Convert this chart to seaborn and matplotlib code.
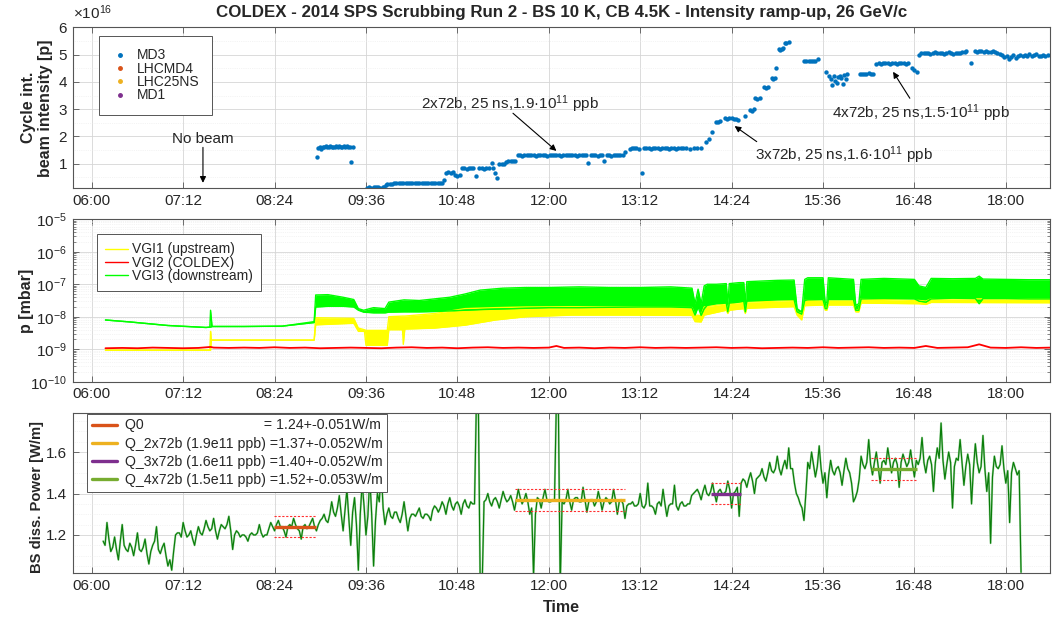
import numpy as np
import matplotlib
matplotlib.use("Agg")
import matplotlib.pyplot as plt
import seaborn as sns
from matplotlib.ticker import FixedLocator, MultipleLocator, LogLocator, NullFormatter
from matplotlib.lines import Line2D

sns.set_theme(style="white")
plt.rcParams['font.family'] = ['Liberation Sans', 'DejaVu Sans']
plt.rcParams['mathtext.fontset'] = 'custom'
plt.rcParams['mathtext.rm'] = 'Liberation Sans'
plt.rcParams['mathtext.it'] = 'Liberation Sans:italic'
plt.rcParams['mathtext.bf'] = 'Liberation Sans:bold'

# ---------------- data ----------------
tick_hours = [6.0, 7.2, 8.4, 9.6, 10.8, 12.0, 13.2, 14.4, 15.6, 16.8, 18.0]
tick_labels = ["06:00", "07:12", "08:24", "09:36", "10:48", "12:00", "13:12", "14:24", "15:36", "16:48", "18:00"]

# MD3 cycle intensity (units of 1e16 p), time in hours
md3_time = [
    8.96, 8.97, 8.99, 9.01, 9.03, 9.05, 9.07, 9.09, 9.11, 9.13, 9.15, 9.17, 9.19, 9.21, 9.23, 9.25, 9.27, 9.29, 9.31, 9.33, 9.35, 9.37, 9.39, 9.41, 9.43,
    9.61, 9.64, 9.67, 9.70, 9.73, 9.76, 9.79, 9.82, 9.84,
    9.86, 9.88, 9.91, 9.94, 9.97, 10.00, 10.03, 10.06, 10.09, 10.12, 10.15, 10.18, 10.21, 10.24, 10.27, 10.30, 10.33, 10.36, 10.39, 10.42, 10.45, 10.48, 10.51, 10.54, 10.57, 10.60, 10.63,
    10.65, 10.68, 10.71, 10.74, 10.77, 10.80, 10.83, 10.86, 10.89, 10.92, 10.95, 10.98, 11.01, 11.05, 11.09, 11.12, 11.15, 11.18, 11.21, 11.25, 11.27, 11.30, 11.32, 11.35, 11.38, 11.41, 11.44, 11.47, 11.50, 11.53, 11.56,
    11.59, 11.62, 11.65, 11.68, 11.71, 11.74, 11.77, 11.80, 11.83, 11.86, 11.89, 11.92, 11.95, 11.98, 12.01, 12.04, 12.07, 12.10, 12.13, 12.16, 12.19, 12.22, 12.25, 12.28, 12.31, 12.34, 12.37, 12.40, 12.43, 12.46, 12.49, 12.52, 12.55, 12.58, 12.61, 12.64, 12.67, 12.70, 12.73, 12.76, 12.79, 12.82, 12.85, 12.88, 12.91, 12.94, 12.97, 13.00,
    13.06, 13.09, 13.12, 13.15, 13.18, 13.22, 13.25, 13.28, 13.31, 13.34, 13.37, 13.40, 13.43, 13.46, 13.49, 13.52, 13.55, 13.58, 13.61, 13.64, 13.67, 13.70, 13.73, 13.76, 13.80, 13.85, 13.90, 13.95, 14.00,
    14.06, 14.10, 14.14, 14.19, 14.22, 14.25, 14.31, 14.34, 14.37, 14.40, 14.43, 14.46, 14.48, 14.57, 14.64, 14.67, 14.69, 14.71, 14.74, 14.77, 14.82, 14.85, 14.88, 14.93, 14.95, 14.97, 14.98, 15.02, 15.04, 15.06, 15.08, 15.10, 15.12, 15.15,
    15.35, 15.38, 15.41, 15.44, 15.47, 15.50, 15.53, 15.64, 15.68, 15.70, 15.72, 15.74, 15.76, 15.78, 15.80, 15.82, 15.84, 15.86, 15.88, 15.90, 15.92,
    16.08, 16.11, 16.14, 16.17, 16.20, 16.23, 16.26, 16.30, 16.33, 16.36, 16.39, 16.42, 16.45, 16.48, 16.51, 16.54, 16.57, 16.60, 16.63, 16.66, 16.69, 16.72, 16.77, 16.80, 16.84,
    16.86, 16.89, 16.92, 16.95, 16.98, 17.01, 17.04, 17.07, 17.10, 17.13, 17.16, 17.19, 17.22, 17.25, 17.28, 17.31, 17.34, 17.37, 17.40, 17.43, 17.46, 17.48, 17.54,
    17.59, 17.62, 17.65, 17.68, 17.71, 17.74, 17.77, 17.80, 17.83, 17.86, 17.89, 17.92, 17.95, 17.98, 18.01, 18.04, 18.07, 18.10, 18.13, 18.16, 18.19, 18.22, 18.25, 18.28, 18.31, 18.34, 18.37, 18.40, 18.43, 18.46, 18.49, 18.52, 18.55,
]
md3_value = [
    1.23, 1.58, 1.62, 1.55, 1.63, 1.60, 1.66, 1.63, 1.61, 1.64, 1.62, 1.60, 1.63, 1.65, 1.62, 1.64, 1.61, 1.63, 1.66, 1.62, 1.64, 1.60, 1.63, 1.05, 1.61,
    0.12, 0.13, 0.12, 0.14, 0.13, 0.13, 0.12, 0.14, 0.15,
    0.22, 0.25, 0.26, 0.27, 0.30, 0.29, 0.30, 0.31, 0.30, 0.29, 0.30, 0.31, 0.30, 0.30, 0.29, 0.31, 0.30, 0.30, 0.31, 0.29, 0.30, 0.31, 0.30, 0.30, 0.31, 0.30, 0.42,
    0.67, 0.69, 0.66, 0.68, 0.58, 0.56, 0.59, 0.83, 0.84, 0.82, 0.85, 0.83, 0.84, 0.55, 0.83, 0.85, 0.82, 0.84, 0.86, 1.01, 0.83, 0.67, 0.46, 0.99, 1.00, 0.98, 1.08, 1.10, 1.09, 1.11, 1.10,
    1.31, 1.32, 1.30, 1.33, 1.32, 1.31, 1.33, 1.32, 1.30, 1.32, 1.33, 1.31, 1.32, 1.30, 1.33, 1.32, 1.31, 1.33, 1.32, 1.30, 1.32, 1.31, 1.33, 1.32, 1.31, 1.32, 1.30, 1.33, 1.32, 1.31, 1.32, 1.04, 1.33, 1.31, 1.32, 1.30, 1.32, 1.33, 1.11, 1.31, 1.32, 1.30, 1.33, 1.32, 1.31, 1.33, 1.32, 1.44,
    1.55, 1.56, 1.57, 1.56, 1.55, 0.65, 1.56, 1.57, 1.56, 1.55, 1.56, 1.57, 1.56, 1.55, 1.57, 1.56, 1.56, 1.55, 1.57, 1.56, 1.55, 1.56, 1.57, 1.56, 1.56, 1.55, 1.57, 1.56, 1.57,
    1.81, 1.89, 2.17, 2.54, 2.52, 2.56, 2.66, 2.64, 2.67, 2.68, 2.65, 2.63, 2.60, 2.75, 2.97, 2.95, 2.99, 3.40, 3.38, 3.42, 3.80, 3.78, 3.83, 4.13, 4.11, 4.15, 4.52, 5.19, 5.17, 5.21, 5.23, 5.41, 5.43, 5.45,
    4.77, 4.76, 4.78, 4.75, 4.77, 4.76, 4.84, 4.37, 4.22, 4.12, 3.88, 4.20, 4.05, 3.95, 4.18, 4.22, 4.15, 3.92, 4.25, 4.10, 4.30,
    4.29, 4.30, 4.28, 4.29, 4.31, 4.28, 4.30, 4.66, 4.68, 4.67, 4.69, 4.68, 4.70, 4.67, 4.68, 4.69, 4.66, 4.68, 4.70, 4.69, 4.67, 4.71, 4.52, 4.45, 4.38,
    5.00, 5.05, 5.07, 5.04, 5.06, 5.03, 5.05, 5.08, 5.06, 5.04, 5.07, 5.02, 5.06, 5.08, 5.05, 5.03, 5.07, 5.06, 5.04, 5.08, 5.10, 5.12, 4.68,
    5.13, 5.11, 5.14, 5.12, 5.10, 5.13, 5.11, 5.08, 5.12, 5.09, 5.06, 5.02, 4.98, 4.90, 4.95, 4.85, 4.92, 4.97, 4.88, 4.95, 5.00, 4.93, 4.98, 4.96, 5.01, 4.94, 4.99, 5.02, 4.96, 4.93, 4.99, 4.95, 4.97,
]
assert len(md3_time) == len(md3_value), (len(md3_time), len(md3_value))

# Pressure gauges: time [h], log10 of lower / upper envelope [mbar]
vgi3_time = [6.18, 6.50, 7.00, 7.50, 7.55, 7.56, 7.58, 8.00, 8.50, 8.92,
             8.94, 9.10, 9.30, 9.44, 9.50, 9.57, 9.70, 9.85, 9.90, 10.10,
             10.30, 10.50, 10.70, 10.90, 11.10, 11.40, 11.70, 12.00, 12.40, 12.80,
             13.20, 13.60, 13.88, 13.92, 13.96, 14.00, 14.04, 14.08, 14.20, 14.33,
             14.35, 14.37, 14.50, 14.56, 14.58, 14.60, 14.80, 15.00, 15.22, 15.26,
             15.32, 15.36, 15.40, 15.60, 15.63, 15.65, 15.67, 15.80, 16.00, 16.03,
             16.07, 16.10, 16.40, 16.80, 16.86, 16.95, 17.02, 17.30, 17.60, 17.65,
             17.70, 18.00, 18.30, 18.60]
vgi3_lo = [-8.10, -8.16, -8.27, -8.33, -8.32, -8.32, -8.30, -8.30, -8.29, -8.18,
           -7.70, -7.68, -7.68, -7.70, -7.80, -7.86, -7.88, -7.88, -7.86, -7.85,
           -7.85, -7.84, -7.82, -7.80, -7.78, -7.76, -7.74, -7.72, -7.72, -7.71,
           -7.70, -7.70, -7.72, -7.95, -7.70, -7.96, -7.75, -7.65, -7.60, -7.58,
           -7.85, -7.58, -7.55, -7.52, -7.85, -7.52, -7.50, -7.48, -7.47, -7.85,
           -7.92, -7.50, -7.48, -7.47, -7.75, -7.75, -7.47, -7.47, -7.47, -7.80,
           -7.80, -7.45, -7.44, -7.45, -7.52, -7.55, -7.45, -7.43, -7.44, -7.60,
           -7.44, -7.44, -7.45, -7.45]
vgi3_hi = [-8.10, -8.16, -8.27, -8.33, -8.32, -7.80, -8.30, -8.30, -8.29, -8.15,
           -7.33, -7.32, -7.40, -7.47, -7.75, -7.80, -7.72, -7.75, -7.55, -7.48,
           -7.50, -7.45, -7.40, -7.30, -7.18, -7.12, -7.10, -7.10, -7.08, -7.10,
           -7.10, -7.08, -7.12, -7.60, -7.15, -7.60, -7.05, -7.00, -7.00, -6.98,
           -7.60, -6.98, -6.95, -6.95, -7.60, -6.92, -6.90, -6.88, -6.87, -7.75,
           -7.85, -6.85, -6.80, -6.80, -7.60, -7.55, -6.80, -6.82, -6.85, -7.65,
           -7.60, -6.85, -6.82, -6.85, -7.05, -7.10, -6.82, -6.83, -6.82, -6.75,
           -6.84, -6.85, -6.86, -6.86]

vgi1_time = [6.18, 7.55, 7.56, 7.57, 8.92, 8.94, 9.44, 9.50, 9.58, 9.60,
             9.88, 9.90, 10.08, 10.09, 10.11, 10.50, 10.90, 11.30, 11.70, 12.30,
             13.00, 13.88, 13.92, 14.00, 14.04, 14.33, 14.35, 14.37, 14.56, 14.58,
             14.60, 15.22, 15.26, 15.32, 15.36, 15.60, 15.63, 15.65, 15.67, 16.00,
             16.03, 16.07, 16.10, 16.86, 16.95, 17.02, 18.60]
vgi1_lo = [-9.03, -9.03, -9.03, -8.72, -8.72, -8.25, -8.20, -8.45, -8.45, -8.88,
           -8.88, -8.40, -8.40, -8.85, -8.38, -8.35, -8.26, -8.10, -8.00, -7.95,
           -7.95, -7.96, -8.15, -8.16, -7.95, -7.80, -7.90, -7.80, -7.75, -7.90,
           -7.74, -7.69, -7.95, -8.10, -7.66, -7.64, -7.80, -7.80, -7.64, -7.64,
           -7.85, -7.85, -7.58, -7.60, -7.62, -7.56, -7.57]
vgi1_hi = [-9.03, -9.03, -8.45, -8.72, -8.72, -8.03, -8.05, -8.35, -8.40, -8.42,
           -8.42, -8.00, -7.98, -7.98, -7.98, -7.90, -7.75, -7.72, -7.70, -7.69,
           -7.70, -7.72, -7.95, -7.96, -7.70, -7.60, -7.85, -7.60, -7.55, -7.85,
           -7.55, -7.50, -7.85, -7.90, -7.50, -7.48, -7.75, -7.70, -7.48, -7.48,
           -7.80, -7.78, -7.45, -7.50, -7.52, -7.45, -7.45]

vgi2_time = [6.18, 6.40, 6.60, 6.80, 7.00, 7.20, 7.40, 7.56, 7.60, 7.80,
             8.00, 8.20, 8.40, 8.60, 8.80, 9.00, 9.20, 9.40, 9.60, 9.80,
             10.00, 10.20, 10.40, 10.60, 10.80, 11.00, 11.20, 11.40, 11.60, 11.80,
             12.00, 12.10, 12.20, 12.40, 12.60, 12.80, 13.00, 13.20, 13.40, 13.60,
             13.80, 14.00, 14.20, 14.40, 14.60, 14.80, 15.00, 15.20, 15.40, 15.60,
             15.80, 16.00, 16.20, 16.40, 16.60, 16.80, 16.95, 17.10, 17.30, 17.50,
             17.65, 17.80, 18.00, 18.20, 18.40, 18.60]
vgi2_log = [-8.97, -8.96, -8.97, -8.95, -8.96, -8.97, -8.96, -8.93, -8.95, -8.96,
            -8.95, -8.96, -8.94, -8.96, -8.95, -8.97, -8.96, -8.95, -8.96, -8.97,
            -8.95, -8.94, -8.96, -8.95, -8.97, -8.95, -8.94, -8.96, -8.95, -8.96,
            -8.95, -8.90, -8.96, -8.95, -8.97, -8.95, -8.96, -8.94, -8.96, -8.95,
            -8.96, -8.95, -8.94, -8.96, -8.95, -8.97, -8.96, -8.95, -8.96, -8.94,
            -8.96, -8.95, -8.94, -8.96, -8.95, -8.96, -8.90, -8.96, -8.95, -8.94,
            -8.85, -8.95, -8.96, -8.94, -8.96, -8.95]

# Beam-screen dissipated power [W/m]: readings every 0.05 h from 06:09 ...
power_start, power_step = 6.15, 0.05
power_value = [
    1.17, 1.26, 1.12, 1.19, 1.08, 1.25, 1.13, 1.16, 1.10, 1.21,
    1.12, 1.18, 1.06, 1.15, 1.24, 1.11, 1.16, 1.05, 1.03, 1.20,
    1.21, 1.26, 1.19, 1.22, 1.15, 1.24, 1.20, 1.27, 1.22, 1.28,
    1.18, 1.25, 1.23, 1.29, 1.13, 1.22, 1.19, 1.20, 1.17, 1.21,
    1.20, 1.25, 1.19, 1.20, 1.26, 1.22, 1.27, 1.24, 1.19, 1.25,
    1.28, 1.23, 1.18, 1.25, 1.24, 1.28, 1.22, 1.27, 1.30, 1.26,
    1.36, 1.29, 1.39, 1.22, 1.42, 1.15, 1.38, 1.03, 1.45, 1.20,
    1.48, 1.05, 1.40, 1.52, 1.25, 1.33, 1.28, 1.31, 1.26, 1.36,
    1.22, 1.30, 1.29, 1.33, 1.28, 1.30, 1.27, 1.34, 1.31, 1.36,
    1.30, 1.38, 1.32, 1.36, 1.30, 1.37, 1.33, 1.35, 1.85, 0.95,
    1.36, 1.40, 1.34, 1.38, 1.33, 1.41, 1.36, 1.39, 1.32, 1.42,
    1.35, 1.40, 1.30, 1.00, 1.38, 1.33, 1.42, 1.36, 1.37, 1.85,
    0.95, 1.35, 1.42, 1.32, 1.38, 1.36, 1.43, 1.31, 1.37, 1.34,
    1.41, 1.32, 1.38, 1.35, 1.42, 1.30, 1.37, 1.28, 1.35, 1.36,
    1.34, 1.40, 1.33, 1.45, 1.34, 1.30, 1.36, 1.42, 1.29, 1.35,
    1.44, 1.32, 1.36, 1.34, 1.35, 1.40, 1.42, 1.37, 1.44, 1.39,
    1.45, 1.36, 1.42, 1.40, 1.46, 1.33, 1.41, 1.29, 1.47, 1.43,
    1.50, 1.40, 1.48, 1.52, 1.46, 1.55, 1.50, 1.58, 1.49, 1.56,
    1.62, 1.52, 1.40, 1.35, 1.27, 1.55, 1.60, 1.48, 1.63, 1.45,
    1.38, 1.56, 1.49, 1.53, 1.44, 1.57, 1.50, 1.36, 1.41, 1.58,
    1.52, 1.66, 1.49, 1.60, 1.45, 1.56, 1.62, 1.50, 1.57, 1.43,
    1.59, 1.53, 1.61, 1.48, 1.54, 1.67, 1.50, 1.58, 1.41, 1.62,
    1.74, 1.47, 1.60, 1.33, 1.57, 1.66, 1.44, 1.59, 1.35, 1.64,
    1.50, 1.68, 1.41, 1.16, 1.58, 1.52, 1.63, 1.45, 1.26, 1.55,
    1.49, 1.02,
]
# ... and the readings half-way between them (06:10:30, 06:13:30, ...)
power_mid_value = [
    1.15, 1.18, 1.14, 1.13, 1.17, 1.15, 1.12, 1.14, 1.15, 1.13,
    1.14, 1.11, 1.12, 1.17, 1.13, 1.14, 1.10, 1.08, 1.12, 1.21,
    1.19, 1.22, 1.20, 1.18, 1.20, 1.21, 1.23, 1.24, 1.23, 1.22,
    1.22, 1.24, 1.25, 1.22, 1.20, 1.21, 1.20, 1.19, 1.20, 1.20,
    1.21, 1.21, 1.20, 1.23, 1.24, 1.25, 1.24, 1.22, 1.24, 1.24,
    1.25, 1.22, 1.24, 1.23, 1.26, 1.24, 1.25, 1.28, 1.27, 1.30,
    1.31, 1.33, 1.30, 1.32, 1.28, 1.31, 1.25, 1.30, 1.34, 1.29,
    1.30, 1.27, 1.36, 1.33, 1.30, 1.29, 1.31, 1.28, 1.30, 1.29,
    1.28, 1.30, 1.31, 1.29, 1.30, 1.29, 1.32, 1.33, 1.33, 1.34,
    1.35, 1.34, 1.35, 1.34, 1.35, 1.34, 1.36, 1.35, 1.85, 0.95,
    1.37, 1.36, 1.37, 1.36, 1.37, 1.38, 1.37, 1.36, 1.37, 1.38,
    1.37, 1.36, 1.33, 1.30, 1.37, 1.38, 1.37, 1.36, 1.37, 1.85,
    1.36, 1.37, 1.36, 1.37, 1.38, 1.36, 1.37, 1.36, 1.37, 1.36,
    1.37, 1.36, 1.37, 1.36, 1.37, 1.36, 1.35, 1.34, 1.35, 1.34,
    1.35, 1.34, 1.35, 1.34, 1.33, 1.35, 1.34, 1.35, 1.34, 1.35,
    1.34, 1.35, 1.34, 1.35, 1.39, 1.41, 1.40, 1.41, 1.40, 1.41,
    1.40, 1.41, 1.40, 1.41, 1.42, 1.40, 1.43, 1.45, 1.46, 1.47,
    1.46, 1.47, 1.49, 1.48, 1.50, 1.51, 1.52, 1.52, 1.53, 1.52,
    1.52, 1.45, 1.38, 1.33, 1.40, 1.52, 1.54, 1.53, 1.52, 1.50,
    1.49, 1.51, 1.52, 1.50, 1.51, 1.52, 1.45, 1.38, 1.47, 1.54,
    1.55, 1.54, 1.55, 1.53, 1.55, 1.54, 1.56, 1.55, 1.54, 1.55,
    1.56, 1.55, 1.54, 1.56, 1.57, 1.55, 1.56, 1.54, 1.55, 1.57,
    1.56, 1.54, 1.55, 1.53, 1.56, 1.55, 1.53, 1.54, 1.52, 1.55,
    1.53, 1.52, 1.50, 1.48, 1.53, 1.54, 1.52, 1.51, 1.50, 1.52,
    1.51,
]
assert len(power_mid_value) == len(power_value) - 1
power_all = np.empty(2 * len(power_value) - 1)
power_all[0::2] = power_value
power_all[1::2] = power_mid_value
power_time = power_start + (power_step / 2) * np.arange(len(power_all))

# Fitted average power levels
q_labels = ["Q0", "Q_2x72b (1.9e11 ppb)", "Q_3x72b (1.6e11 ppb)", "Q_4x72b (1.5e11 ppb)"]
q_value = [1.24, 1.37, 1.40, 1.52]
q_error = [0.051, 0.052, 0.052, 0.053]
q_start = [8.39, 11.56, 14.13, 16.23]
q_end = [8.95, 13.00, 14.53, 16.83]
q_colors = ["#D95319", "#EDB120", "#7E2F8E", "#77AC30"]

# ---------------- figure ----------------
W_PX, H_PX = 1057, 618
fig = plt.figure(figsize=(W_PX / 100, H_PX / 100), dpi=100)
fig.patch.set_facecolor("white")
left_px, right_px = 72.7, 1050.0
XMIN, XMAX = 5.75, 18.58

def add_ax(top, bottom):
    return fig.add_axes([left_px / W_PX, 1 - bottom / H_PX,
                         (right_px - left_px) / W_PX, (bottom - top) / H_PX])

ax1 = add_ax(27.3, 188.3)
ax2 = add_ax(219.3, 381.7)
ax3 = add_ax(412.7, 573.3)

TXT = "#262626"

def style(ax):
    ax.set_facecolor("white")
    ax.set_xlim(XMIN, XMAX)
    ax.xaxis.set_major_locator(FixedLocator(tick_hours))
    ax.set_xticklabels(tick_labels)
    ax.tick_params(which="major", direction="in", top=True, right=True, bottom=True, left=True,
                   labelsize=11, labelcolor=TXT, color="#555555", length=4, width=0.6, pad=4)
    ax.tick_params(which="minor", direction="in", top=False, right=True, left=True, length=0, width=0.5, color="#555555")
    ax.grid(True, which="major", color="#d6d6d6", lw=0.6)
    ax.grid(True, which="minor", axis="y", color="#eaeaea", lw=0.5, ls=":")
    for s in ax.spines.values():
        s.set_color("#555555")
        s.set_linewidth(0.8)
    ax.set_axisbelow(True)
    ax.set_xlabel("")
    ax.set_ylabel("")

# ---- top panel: intensity ----
sns.scatterplot(x=md3_time, y=md3_value, ax=ax1, color="#0072BD", s=10, linewidth=0, legend=False)
style(ax1)
ax1.set_ylim(0.1, 6)
ax1.yaxis.set_major_locator(FixedLocator([1, 2, 3, 4, 5, 6]))
ax1.set_yticklabels(["1", "2", "3", "4", "5", "6"])
ax1.yaxis.set_minor_locator(MultipleLocator(0.5))
fig.text(left_px / W_PX, 1 - 13 / H_PX, r"$\times10^{16}$", ha="left", va="center", fontsize=11, color=TXT)

h_int = [Line2D([], [], marker=".", ls="none", color=c, markersize=5)
         for c in ["#0072BD", "#D95319", "#EDB120", "#7E2F8E"]]
leg1 = ax1.legend(h_int, ["MD3", "LHCMD4", "LHC25NS", "MD1"], loc="upper left",
                  bbox_to_anchor=(0.027, 0.946), borderaxespad=0, fontsize=10,
                  frameon=True, fancybox=False, edgecolor="#555555", framealpha=1,
                  handlelength=1.2, handletextpad=0.6, labelspacing=-0.05, borderpad=0.9)
leg1.get_frame().set_linewidth(0.7)

arw = dict(arrowstyle="-|>", color="black", lw=0.8, mutation_scale=9, shrinkA=0, shrinkB=0)
ann_size = 11
ax1.text(7.46, 1.92, "No beam", ha="center", va="center", fontsize=ann_size, color=TXT)
ax1.annotate("", xy=(7.46, 0.30), xytext=(7.46, 1.60), arrowprops=arw)
ax1.text(11.49, 3.19, "2x72b, 25 ns,1.9·10$^{11}$ ppb", ha="center", va="center", fontsize=ann_size, color=TXT)
ax1.annotate("", xy=(12.10, 1.47), xytext=(11.53, 2.85), arrowprops=arw)
ax1.text(15.88, 1.32, "3x72b, 25 ns,1.6·10$^{11}$ ppb", ha="center", va="center", fontsize=ann_size, color=TXT)
ax1.annotate("", xy=(14.44, 2.38), xytext=(14.73, 1.81), arrowprops=arw)
ax1.text(16.88, 2.85, "4x72b, 25 ns,1.5·10$^{11}$ ppb", ha="center", va="center", fontsize=ann_size, color=TXT)
ax1.annotate("", xy=(16.52, 4.37), xytext=(16.74, 3.40), arrowprops=arw)

# ---- middle panel: pressure ----
t1 = np.array(vgi1_time)
ax2.fill_between(t1, 10 ** np.array(vgi1_lo), 10 ** np.array(vgi1_hi), color="#FFFF00", lw=0)
sns.lineplot(x=t1, y=10 ** np.array(vgi1_lo), ax=ax2, color="#FFFF00", lw=1.0, estimator=None, sort=False)
sns.lineplot(x=t1, y=10 ** np.array(vgi1_hi), ax=ax2, color="#FFFF00", lw=1.0, estimator=None, sort=False)
sns.lineplot(x=vgi2_time, y=10 ** np.array(vgi2_log), ax=ax2, color="#FF0000", lw=1.3, estimator=None, sort=False)
t3 = np.array(vgi3_time)
ax2.fill_between(t3, 10 ** np.array(vgi3_lo), 10 ** np.array(vgi3_hi), color="#00FF00", lw=0)
sns.lineplot(x=t3, y=10 ** np.array(vgi3_lo), ax=ax2, color="#00FF00", lw=1.0, estimator=None, sort=False)
sns.lineplot(x=t3, y=10 ** np.array(vgi3_hi), ax=ax2, color="#00FF00", lw=1.0, estimator=None, sort=False)
ax2.set_yscale("log")
style(ax2)
ax2.set_ylim(1e-10, 1e-5)
ax2.yaxis.set_major_locator(LogLocator(base=10, numticks=10))
ax2.yaxis.set_minor_locator(LogLocator(base=10, subs=np.arange(2, 10), numticks=10))
ax2.yaxis.set_minor_formatter(NullFormatter())
ax2.tick_params(which="minor", length=2)
ax2.tick_params(which="minor", axis="x", length=0)
h_p = [Line2D([], [], color=c, lw=1.0) for c in ["#FFFF00", "#FF0000", "#00FF00"]]
leg2 = ax2.legend(h_p, ["VGI1 (upstream)", "VGI2 (COLDEX)", "VGI3 (downstream)"], loc="upper left",
                  bbox_to_anchor=(0.025, 0.909), borderaxespad=0, fontsize=10,
                  frameon=True, fancybox=False, edgecolor="#555555", framealpha=1,
                  handlelength=1.6, handletextpad=0.3, labelspacing=-0.05, borderpad=0.6)
leg2.get_frame().set_linewidth(0.7)

# ---- bottom panel: BS power ----
sns.lineplot(x=power_time, y=power_all, ax=ax3, color="#6fc06f", lw=1.5, alpha=0.6, estimator=None, sort=False)
sns.lineplot(x=power_time, y=power_all, ax=ax3, color="#0a7d0a", lw=0.85, estimator=None, sort=False)
q_handles = []
for lab, v, e, s, en, c in zip(q_labels, q_value, q_error, q_start, q_end, q_colors):
    ax3.plot([s, en], [v + e, v + e], color="#ff3030", lw=0.8, ls=(0, (2, 1.5)))
    ax3.plot([s, en], [v - e, v - e], color="#ff3030", lw=0.8, ls=(0, (2, 1.5)))
    ax3.plot([s, en], [v, v], color=c, lw=2.4, solid_capstyle="butt")
    q_handles.append(Line2D([], [], color=c, lw=2.4))
style(ax3)
ax3.set_ylim(1.015, 1.79)
ax3.yaxis.set_major_locator(FixedLocator([1.2, 1.4, 1.6]))
ax3.set_yticklabels(["1.2", "1.4", "1.6"])
ax3.yaxis.set_minor_locator(MultipleLocator(0.05))
q_texts = []
for lab, v, e in zip(q_labels, q_value, q_error):
    if lab == "Q0":
        q_texts.append(lab + " " * 31 + "= %.2f+-%.3fW/m" % (v, e))
    else:
        q_texts.append(lab + " =%.2f+-%.3fW/m" % (v, e))
leg3 = ax3.legend(q_handles, q_texts, loc="upper left", bbox_to_anchor=(0.0146, 0.995),
                  borderaxespad=0, fontsize=10.2, frameon=True, fancybox=False,
                  edgecolor="#555555", framealpha=1, handlelength=1.8, handletextpad=0.5,
                  labelspacing=0.3, borderpad=0.35)
leg3.get_frame().set_linewidth(0.7)

# ---- labels ----
fig.text((left_px + right_px) / 2 / W_PX, 1 - 12 / H_PX,
         "COLDEX - 2014 SPS Scrubbing Run 2 - BS 10 K, CB 4.5K - Intensity ramp-up, 26 GeV/c",
         ha="center", va="center", fontsize=12.2, fontweight="bold", color=TXT)
fig.text(37 / W_PX, 1 - 107.8 / H_PX, "Cycle int.\nbeam intensity [p]", rotation=90,
         ha="center", va="center", multialignment="center", fontsize=11.5, fontweight="bold", color=TXT)
fig.text(27 / W_PX, 1 - 300.5 / H_PX, "p [mbar]", rotation=90, ha="center", va="center",
         fontsize=11.5, fontweight="bold", color=TXT)
fig.text(37 / W_PX, 1 - 497 / H_PX, "BS diss. Power [W/m]", rotation=90, ha="center", va="center",
         fontsize=10.6, fontweight="bold", color=TXT)
fig.text((left_px + right_px) / 2 / W_PX, 1 - 607 / H_PX, "Time", ha="center", va="center",
         fontsize=11.5, fontweight="bold", color=TXT)

fig.savefig("out.png", dpi=100, facecolor="white")
